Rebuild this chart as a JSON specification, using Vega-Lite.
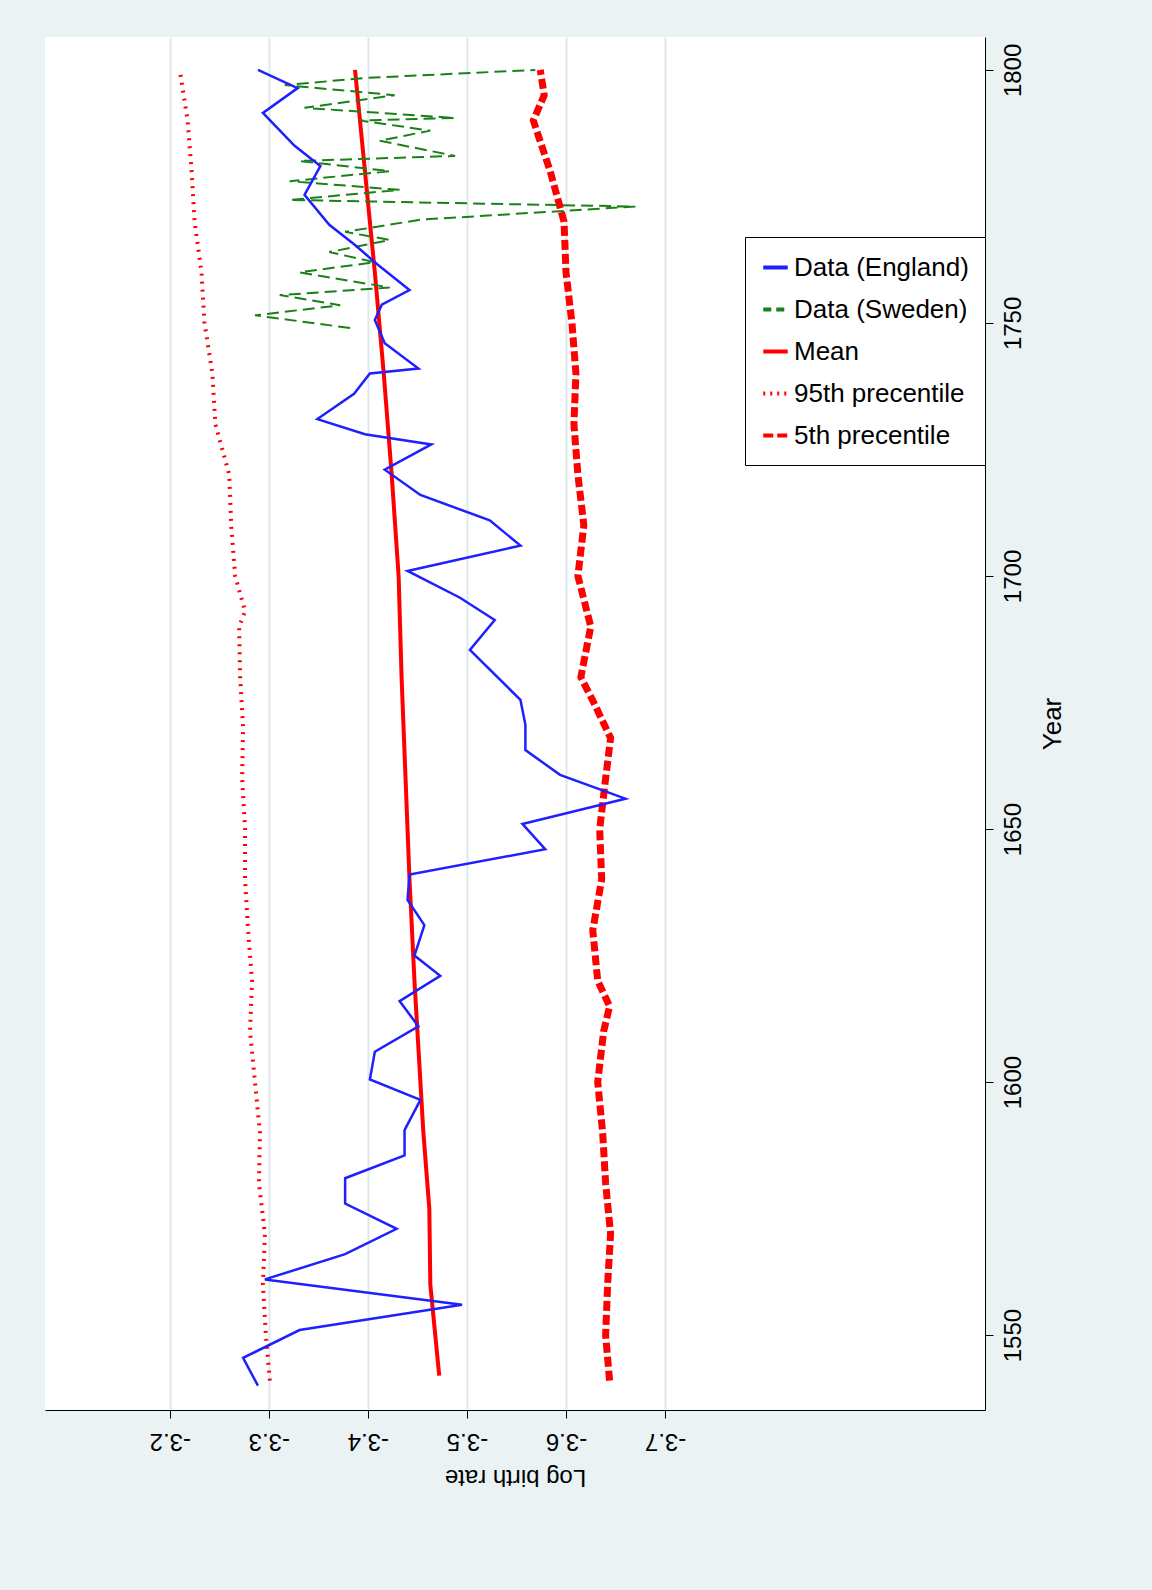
{
"$schema":"https://vega.github.io/schema/vega-lite/v6.json",
"autosize":"none","width":940,"height":1373,
"padding":{"left":45,"top":37,"right":167,"bottom":180},
"background":"#eaf2f3",
"config":{"view":{"fill":"white","stroke":null},"font":"Liberation Sans"},
"datasets":{
"eng":[{"year":1540,"v":-3.289},{"year":1545.5,"v":-3.274},{"year":1551,"v":-3.331},{"year":1556,"v":-3.495},{"year":1561,"v":-3.296},{"year":1566,"v":-3.377},{"year":1571,"v":-3.429},{"year":1576,"v":-3.377},{"year":1581,"v":-3.377},{"year":1585.5,"v":-3.437},{"year":1590.5,"v":-3.437},{"year":1596.5,"v":-3.453},{"year":1600.5,"v":-3.402},{"year":1606,"v":-3.407},{"year":1611,"v":-3.451},{"year":1616,"v":-3.432},{"year":1621,"v":-3.473},{"year":1625,"v":-3.447},{"year":1631,"v":-3.457},{"year":1636,"v":-3.44},{"year":1641,"v":-3.442},{"year":1646,"v":-3.579},{"year":1651,"v":-3.556},{"year":1656,"v":-3.66},{"year":1660.7,"v":-3.594},{"year":1665.6,"v":-3.559},{"year":1670.6,"v":-3.559},{"year":1675.5,"v":-3.554},{"year":1685.4,"v":-3.503},{"year":1691.3,"v":-3.528},{"year":1695.7,"v":-3.493},{"year":1701,"v":-3.44},{"year":1706,"v":-3.554},{"year":1711,"v":-3.523},{"year":1716,"v":-3.453},{"year":1721,"v":-3.417},{"year":1726,"v":-3.464},{"year":1728,"v":-3.397},{"year":1731,"v":-3.349},{"year":1736,"v":-3.386},{"year":1740,"v":-3.402},{"year":1741,"v":-3.451},{"year":1746,"v":-3.417},{"year":1750.6,"v":-3.407},{"year":1753.6,"v":-3.414},{"year":1756.5,"v":-3.442},{"year":1761.5,"v":-3.41},{"year":1765.4,"v":-3.387},{"year":1769.4,"v":-3.361},{"year":1775.3,"v":-3.336},{"year":1781,"v":-3.352},{"year":1785,"v":-3.326},{"year":1791.5,"v":-3.294},{"year":1796.4,"v":-3.329},{"year":1800,"v":-3.289}],
"swe":[{"year":1749,"v":-3.382},{"year":1751.5,"v":-3.286},{"year":1753.5,"v":-3.372},{"year":1755.5,"v":-3.311},{"year":1757,"v":-3.422},{"year":1760,"v":-3.331},{"year":1762,"v":-3.407},{"year":1764,"v":-3.361},{"year":1766.4,"v":-3.422},{"year":1768,"v":-3.377},{"year":1770.4,"v":-3.453},{"year":1773,"v":-3.67},{"year":1774.3,"v":-3.321},{"year":1776.3,"v":-3.432},{"year":1778,"v":-3.321},{"year":1780,"v":-3.422},{"year":1782,"v":-3.331},{"year":1783,"v":-3.488},{"year":1786,"v":-3.412},{"year":1788,"v":-3.463},{"year":1790,"v":-3.392},{"year":1790.5,"v":-3.488},{"year":1792.5,"v":-3.336},{"year":1795,"v":-3.427},{"year":1797,"v":-3.316},{"year":1798.4,"v":-3.397},{"year":1800,"v":-3.569}],
"mean":[{"year":1542,"v":-3.472},{"year":1550,"v":-3.468},{"year":1560,"v":-3.463},{"year":1575,"v":-3.462},{"year":1590,"v":-3.456},{"year":1600,"v":-3.453},{"year":1620,"v":-3.447},{"year":1640,"v":-3.442},{"year":1660,"v":-3.438},{"year":1680,"v":-3.434},{"year":1700,"v":-3.431},{"year":1720,"v":-3.424},{"year":1740,"v":-3.416},{"year":1760,"v":-3.407},{"year":1780,"v":-3.397},{"year":1800,"v":-3.387}],
"p95":[{"year":1541,"v":-3.301},{"year":1550,"v":-3.297},{"year":1560,"v":-3.294},{"year":1570,"v":-3.296},{"year":1580,"v":-3.29},{"year":1590,"v":-3.291},{"year":1600,"v":-3.286},{"year":1610,"v":-3.281},{"year":1620,"v":-3.283},{"year":1630,"v":-3.279},{"year":1640,"v":-3.276},{"year":1650,"v":-3.276},{"year":1660,"v":-3.273},{"year":1670,"v":-3.274},{"year":1680,"v":-3.271},{"year":1690,"v":-3.27},{"year":1693,"v":-3.276},{"year":1700,"v":-3.266},{"year":1710,"v":-3.262},{"year":1720,"v":-3.26},{"year":1730,"v":-3.246},{"year":1740,"v":-3.243},{"year":1750,"v":-3.235},{"year":1760,"v":-3.232},{"year":1770,"v":-3.225},{"year":1780,"v":-3.222},{"year":1790,"v":-3.218},{"year":1800,"v":-3.21}],
"p5":[{"year":1541,"v":-3.644},{"year":1550,"v":-3.64},{"year":1560,"v":-3.642},{"year":1570,"v":-3.645},{"year":1580,"v":-3.64},{"year":1590,"v":-3.637},{"year":1600,"v":-3.632},{"year":1610,"v":-3.638},{"year":1615,"v":-3.644},{"year":1620,"v":-3.632},{"year":1630,"v":-3.627},{"year":1640,"v":-3.636},{"year":1650,"v":-3.634},{"year":1660,"v":-3.64},{"year":1668,"v":-3.645},{"year":1675,"v":-3.628},{"year":1680,"v":-3.615},{"year":1690,"v":-3.625},{"year":1700,"v":-3.612},{"year":1710,"v":-3.618},{"year":1720,"v":-3.612},{"year":1730,"v":-3.608},{"year":1740,"v":-3.61},{"year":1750,"v":-3.606},{"year":1760,"v":-3.6},{"year":1770,"v":-3.598},{"year":1780,"v":-3.584},{"year":1790,"v":-3.567},{"year":1795,"v":-3.578},{"year":1800,"v":-3.574}]
},
"encoding":{
"x":{"field":"v","type":"quantitative","scale":{"domain":[-3.074,-4.023],"nice":false,"zero":false},
"axis":{"values":[-3.2,-3.3,-3.4,-3.5,-3.6,-3.7],"labelExpr":"replace(format(datum.value,'.1f'),'−','-')","labelAngle":180,"labelFontSize":24,"labelColor":"black","labelBaseline":"middle","labelPadding":22,"tickSize":8,"tickColor":"black","domainColor":"black","grid":true,"gridColor":"#dfe9ec","gridWidth":2,"title":"Log birth rate","titleAngle":180,"titleFontSize":24,"titleFontWeight":"normal","titlePadding":36}},
"y":{"field":"year","type":"quantitative","scale":{"domain":[1535.2,1806.5],"nice":false,"zero":false},
"axis":{"orient":"right","values":[1550,1600,1650,1700,1750,1800],"format":"d","labelAngle":-90,"labelFontSize":24,"labelColor":"black","labelAlign":"center","labelBaseline":"top","labelPadding":8,"tickSize":8,"tickColor":"black","domainColor":"black","grid":false,"title":"Year","titleAngle":-90,"titleFontSize":26,"titleFontWeight":"normal","titlePadding":40}},
"order":{"field":"year","type":"quantitative"}
},
"layer":[
{"data":{"name":"p95"},"mark":{"type":"line","color":"#ff0000","strokeWidth":4,"strokeDash":[2,6]}},
{"data":{"name":"p5"},"mark":{"type":"line","color":"#ff0000","strokeWidth":7,"strokeDash":[10,4]}},
{"data":{"name":"mean"},"mark":{"type":"line","color":"#ff0000","strokeWidth":4}},
{"data":{"name":"swe"},"mark":{"type":"line","color":"#1a801a","strokeWidth":2,"strokeDash":[12,6]}},
{"data":{"name":"eng"},"mark":{"type":"line","color":"#1f1fff","strokeWidth":2.5}},
{"data":{"values":[{"s":"Data (England)"},{"s":"Data (Sweden)"},{"s":"Mean"},{"s":"95th precentile"},{"s":"5th precentile"}]},
"mark":{"type":"point","opacity":0},
"encoding":{"x":{"value":0},"y":{"value":0},"order":{"value":0},
"color":{"field":"s","type":"nominal","sort":null,"scale":{"domain":["Data (England)","Data (Sweden)","Mean","95th precentile","5th precentile"],"range":["#1f1fff","#1a801a","#ff0000","#ff0000","#ff0000"]},
"legend":{"title":null,"orient":"none","legendX":700,"legendY":200,"symbolType":"stroke","symbolSize":600,"symbolStrokeWidth":4,"symbolOpacity":1,"labelFontSize":26,"labelLimit":0,"labelColor":"black","strokeColor":"black","padding":16,"rowPadding":14,"fillColor":"white",
"symbolDash":{"expr":"datum.label=='Data (Sweden)'?[8,5]:datum.label=='95th precentile'?[2,5]:datum.label=='5th precentile'?[10,4]:[]"}}}}}
]
}
